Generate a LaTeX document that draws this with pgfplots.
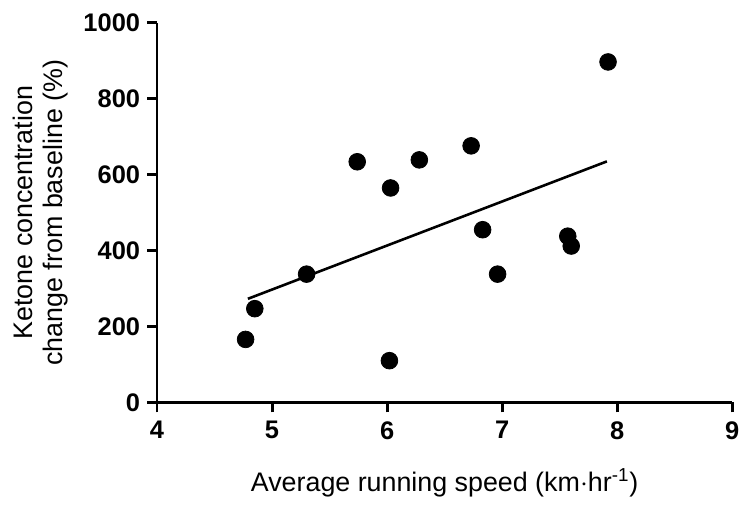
\documentclass[border=0pt]{standalone}
\usepackage{fontspec}
\setmainfont{Liberation Sans}
\usepackage{pgfplots}
\pgfplotsset{compat=1.18}
\usetikzlibrary{calc}

\begin{document}
\begin{tikzpicture}
\begin{axis}[
  scale only axis,
  width=289.5bp, height=191bp,
  xmin=4, xmax=9, ymin=0, ymax=1000,
  xtick={4,5,6,7,8,9}, ytick={0,200,400,600,800,1000},
  axis x line*=bottom, axis y line*=left,
  axis line style={line width=1.5bp},
  tick align=outside, major tick length=5bp,
  tick style={line width=1.5bp, black},
  /pgf/number format/assume math mode=true,
  /pgf/number format/1000 sep={},
  tick label style={font=\fontsize{12.8bp}{15bp}\selectfont\bfseries},
  xticklabel style={yshift=-1bp},
  label style={font=\fontsize{13.5bp}{15bp}\selectfont},
  xlabel={Average running speed (km$\cdot$hr\textsuperscript{-1})},
  xlabel style={at={(axis description cs:0.5,0)}, anchor=base, yshift=-45bp},
  ylabel={Ketone concentration\\change from baseline (\%)},
  ylabel style={at={(axis description cs:0,0.5)}, anchor=center, yshift=58.5bp, align=center},
  clip=false,
]
% measured points
\addplot[only marks, mark=*, mark size=4.2bp, black] coordinates {
  (4.77,166) (4.85,247) (5.30,338) (6.02,110) (5.74,634) (6.28,639)
  (6.03,565) (7.92,897) (6.73,676) (6.83,455) (6.96,338) (7.57,438) (7.60,412)
};
% fitted line
\addplot[black, line width=1.3bp] coordinates {(4.79,273) (7.91,635)};
\end{axis}
\path ($(current axis.south west)+(-79bp,-49bp)$) rectangle ($(current axis.north east)+(4.5bp,11.5bp)$);
\end{tikzpicture}
\end{document}
